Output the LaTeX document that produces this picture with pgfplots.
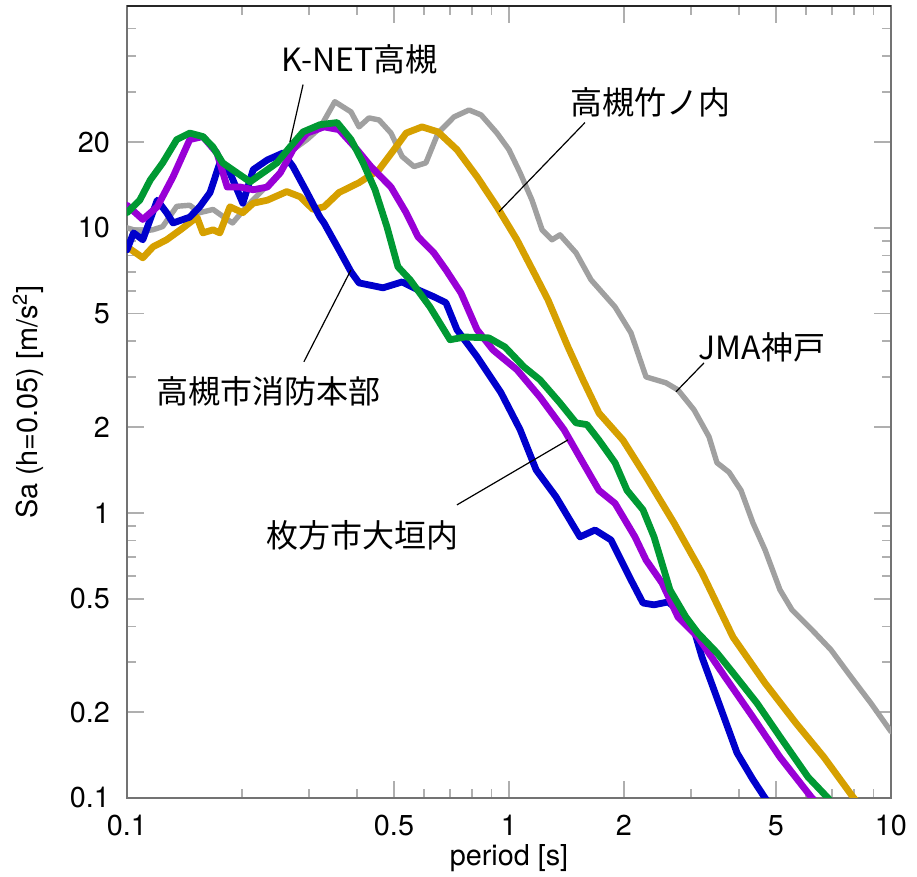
\documentclass[border=0pt]{standalone}
\usepackage{fontspec}
\setmainfont{TeX Gyre Heros}
\newfontfamily\jp{Noto Sans CJK JP}
\usepackage{pgfplots}
\pgfplotsset{compat=1.18}
\definecolor{cgray}{RGB}{160,160,160}
\definecolor{cgold}{RGB}{214,160,0}
\definecolor{cpurple}{RGB}{153,0,214}
\definecolor{cgreen}{RGB}{0,153,51}
\definecolor{cblue}{RGB}{0,0,204}
\definecolor{ctick}{RGB}{175,175,175}
\begin{document}
\begin{tikzpicture}
\begin{axis}[
  xmode=log, ymode=log,
  scale only axis, width=382pt, height=396pt,
  xmin=0.1, xmax=10, ymin=0.1, ymax=60,
  xtick={0.1,0.5,1,2,5,10}, xticklabels={0.1,0.5,1,2,5,10},
  minor xtick={0.2,0.3,0.4,0.6,0.7,0.8,0.9,3,4,6,7,8,9},
  ytick={0.1,0.2,0.5,1,2,5,10,20}, yticklabels={0.1,0.2,0.5,1,2,5,10,20},
  minor ytick={0.3,0.4,0.6,0.7,0.8,0.9,3,4,6,7,8,9,30,40,50},
  major tick length=8.5pt, minor tick length=4.3pt,
  tick style={draw=ctick, line width=0.8pt},
  axis line style={draw=black!55, line width=0.9pt},
  tick label style={font=\fontsize{14.4}{17}\selectfont},
  xticklabel style={yshift=-5pt},
  yticklabel style={xshift=-5pt},
  xlabel={period [s]}, ylabel={Sa (h=0.05) [m/s\textsuperscript{2}]},
  every axis x label/.style={at={(axis description cs:0.5,-0.0758)}, anchor=center, font=\fontsize{14.4}{17}\selectfont},
  every axis y label/.style={at={(axis description cs:-0.1296,0.5)}, rotate=90, anchor=center, font=\fontsize{14.4}{17}\selectfont},
  every axis plot/.append style={line join=round, line cap=round},
]
% JMA Kobe
\addplot[cgray, line width=2.7pt] coordinates {
(0.1,10) (0.108,9.7) (0.117,9.85) (0.124,10.1) (0.135,11.9) (0.146,12.0) (0.155,11.3) (0.168,11.6) (0.183,10.7) (0.189,10.4)
(0.206,11.9) (0.227,13.6) (0.252,15.6) (0.272,18.8) (0.296,20.4) (0.320,22.4) (0.350,27.7) (0.386,25.5) (0.405,22.6) (0.430,24.3)
(0.457,23.9) (0.491,21.5) (0.525,17.8) (0.564,16.4) (0.606,16.9) (0.652,21.5) (0.718,24.5) (0.786,25.9) (0.845,24.9) (0.930,21.5)
(1.0,18.8) (1.069,15.6) (1.149,12.5) (1.221,9.84) (1.296,9.08) (1.360,9.45) (1.498,8.17) (1.640,6.57) (1.895,5.28) (2.086,4.28)
(2.284,3.00) (2.576,2.86) (2.770,2.70) (3.050,2.30) (3.339,1.85) (3.503,1.50) (3.766,1.39) (4.049,1.20) (4.352,0.922) (4.680,0.742)
(5.122,0.537) (5.506,0.457) (6.211,0.389) (6.965,0.331) (7.858,0.266) (8.862,0.215) (10,0.171)
};
% Takatsuki Takenouchi
\addplot[cgold, line width=3.4pt] coordinates {
(0.1,8.58) (0.110,7.85) (0.117,8.58) (0.127,9.08) (0.138,9.84) (0.1525,10.9) (0.158,9.60) (0.168,9.84) (0.175,9.60) (0.186,11.85)
(0.201,11.3) (0.214,12.2) (0.233,12.5) (0.262,13.4) (0.284,12.85) (0.307,11.6) (0.328,11.85) (0.359,13.3) (0.405,14.4) (0.457,16.0)
(0.5,18.8) (0.538,21.5) (0.592,22.6) (0.652,21.7) (0.731,18.8) (0.825,15.1) (0.930,11.85) (1.049,9.08) (1.178,6.73) (1.265,5.59)
(1.427,3.82) (1.562,2.93) (1.720,2.24) (1.988,1.80) (2.284,1.34) (2.704,0.922) (3.201,0.616) (3.858,0.367) (4.680,0.253) (5.641,0.183)
(6.677,0.139) (7.953,0.1008) (8.2,0.096)
};
% Hirakata
\addplot[cblue, line width=3.4pt] coordinates {
(0.1,8.37) (0.104,9.60) (0.110,9.08) (0.120,12.5) (0.127,11.3) (0.132,10.4) (0.146,10.9) (0.155,11.85) (0.165,13.3) (0.175,16.9)
(0.186,15.6) (0.201,12.2) (0.214,16.0) (0.233,17.3) (0.256,18.3) (0.272,16.4) (0.296,13.3) (0.320,10.9) (0.328,10.4) (0.359,8.37)
(0.386,7.01) (0.405,6.41) (0.468,6.16) (0.525,6.46) (0.578,6.06) (0.636,5.73) (0.684,5.46) (0.731,4.39) (0.825,3.53) (0.953,2.64)
(1.069,1.96) (1.178,1.415) (1.327,1.14) (1.534,0.824) (1.680,0.871) (1.849,0.804) (2.086,0.582) (2.243,0.483) (2.397,0.476) (2.607,0.487)
(2.838,0.446) (3.050,0.389) (3.201,0.312) (3.420,0.245) (3.677,0.188) (3.953,0.144) (4.352,0.116) (4.680,0.1) (4.8,0.096)
};
% K-NET Takatsuki
\addplot[cpurple, line width=3.4pt] coordinates {
(0.1,12.0) (0.110,10.7) (0.120,11.85) (0.132,15.1) (0.146,20.4) (0.158,20.9) (0.172,18.3) (0.183,13.9) (0.198,13.9) (0.214,13.6)
(0.233,13.9) (0.252,15.6) (0.272,18.8) (0.296,21.5) (0.328,22.6) (0.359,22.1) (0.395,19.2) (0.435,16.4) (0.491,13.9) (0.538,11.3)
(0.578,9.30) (0.636,8.17) (0.684,7.12) (0.749,5.91) (0.825,4.39) (0.908,3.73) (1.049,3.18) (1.205,2.55) (1.393,1.96) (1.562,1.50)
(1.720,1.20) (1.895,1.08) (2.137,0.824) (2.284,0.684) (2.515,0.568) (2.770,0.431) (3.124,0.367) (3.677,0.266) (4.352,0.192) (5.122,0.139)
(6.211,0.1) (6.4,0.096)
};
% Takatsuki fire dept
\addplot[cgreen, line width=3.4pt] coordinates {
(0.1,11.3) (0.108,12.5) (0.115,14.7) (0.124,16.9) (0.135,20.4) (0.146,21.5) (0.158,20.9) (0.168,19.2) (0.178,16.9) (0.194,15.6)
(0.210,14.5) (0.227,15.6) (0.247,16.9) (0.267,19.2) (0.289,21.7) (0.320,23.0) (0.355,23.4) (0.386,20.4) (0.415,16.9) (0.446,13.6)
(0.479,10.1) (0.512,7.30) (0.551,6.57) (0.621,5.28) (0.701,4.05) (0.767,4.14) (0.886,4.11) (0.976,3.82) (1.095,3.25) (1.205,2.93)
(1.360,2.43) (1.498,2.07) (1.600,2.04) (1.720,1.80) (1.895,1.50) (2.037,1.20) (2.243,1.025) (2.397,0.824) (2.639,0.537) (2.906,0.431)
(3.124,0.379) (3.503,0.323) (3.858,0.275) (4.460,0.215) (5.122,0.164) (6.063,0.1185) (6.841,0.1) (7.0,0.096)
};
% top frame line (darker in the reference)
\draw[black!85, line width=0.9pt] (rel axis cs:0,1) -- (rel axis cs:1,1);
% annotations
\draw[black, line width=0.6pt] (axis cs:0.289,31.8) -- (axis cs:0.267,20.0);
\node[font=\jp\fontsize{16}{19}\selectfont] at (axis cs:0.407,38.9) {K-NET高槻};
\draw[black, line width=0.6pt] (axis cs:1.581,23.4) -- (axis cs:0.942,11.4);
\node[font=\jp\fontsize{16}{19}\selectfont] at (axis cs:2.353,27.5) {高槻竹ノ内};
\draw[black, line width=0.6pt] (axis cs:3.240,3.36) -- (axis cs:2.736,2.66);
\node[font=\jp\fontsize{16}{19}\selectfont] at (axis cs:4.596,3.82) {JMA神戸};
\draw[black, line width=0.6pt] (axis cs:0.2905,3.39) -- (axis cs:0.3858,7.12);
\node[font=\jp\fontsize{16}{19}\selectfont] at (axis cs:0.2353,2.68) {高槻市消防本部};
\draw[black, line width=0.6pt] (axis cs:0.7309,1.067) -- (axis cs:1.427,1.804);
\node[font=\jp\fontsize{16}{19}\selectfont] at (axis cs:0.4147,0.837) {枚方市大垣内};
\end{axis}
\pgfresetboundingbox
\path[use as bounding box] (-63.5pt,-39.5pt) rectangle (395pt,399pt);
\end{tikzpicture}
\end{document}
